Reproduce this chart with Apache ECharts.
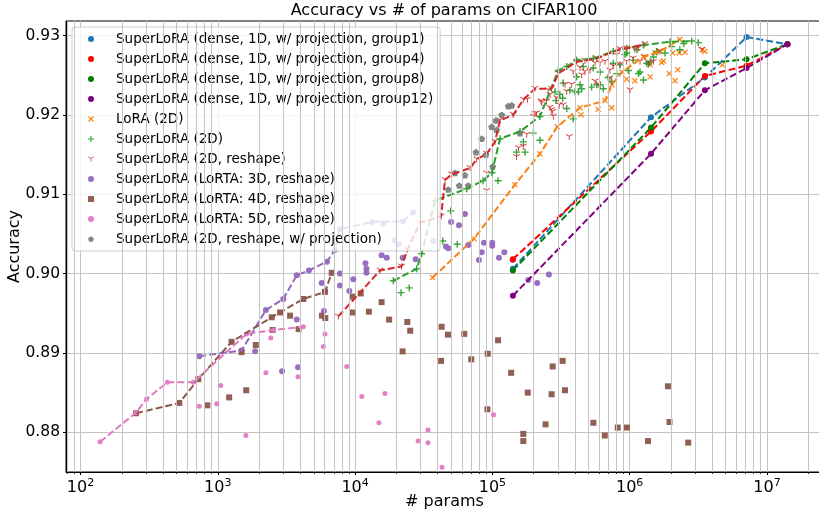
<!DOCTYPE html>
<html><head><meta charset="utf-8">
<script src="https://cdn.jsdelivr.net/npm/echarts@6/dist/echarts.min.js"></script>
<style>html,body{margin:0;padding:0;background:#fff}#c{width:819px;height:514px}</style>
</head><body><div id="c"></div><script>
// ---------------- data ----------------
const denseParams = [1.41e5, 1.43e6, 3.53e6, 7.1e6, 1.41e7];
const group1Acc  = [0.9006, 0.9197, 0.9247, 0.9298, 0.9289];
const group4Acc  = [0.9018, 0.9179, 0.9249, 0.9262, 0.9289];
const group8Acc  = [0.9004, 0.9184, 0.9265, 0.9270, 0.9289];
const group12Acc = [0.8972, 0.9151, 0.9231, 0.9259, 0.9289];

const loraFront = [[3.67e4,0.8995],[7.35e4,0.9044],[1.46e5,0.9112],[2.22e5,0.9151],[2.97e5,0.9185],[4.35e5,0.9209],[6.61e5,0.9218],[7.43e5,0.9238],[8.79e5,0.9254],[1.26e6,0.9273],[1.66e6,0.9280],[2.32e6,0.9295]];
const loraOther = [[4.42e5,0.9200],[5.90e5,0.9207],[7.39e5,0.9209],[9.51e5,0.9245],[1.09e6,0.9243],[1.41e6,0.9248],[1.71e6,0.9266],[1.94e6,0.9252],[2.14e6,0.9243],[2.24e6,0.9257],[1.53e6,0.9278],[2.06e6,0.9278],[2.30e6,0.9278],[2.53e6,0.9279],[3.38e6,0.9282],[3.53e6,0.9280],[4.72e6,0.9263],[1.76e6,0.9268],[1.41e6,0.9263]];

const sl2dFront = [[1.90e4,0.8991],[2.81e4,0.9006],[3.05e4,0.9025],[3.82e4,0.9092],[6.50e4,0.9107],[8.55e4,0.9117],[9.93e4,0.9127],[1.136e5,0.9170],[1.59e5,0.9179],[2.22e5,0.9198],[3.02e5,0.9256],[3.48e5,0.9261],[4.11e5,0.9269],[5.43e5,0.9271],[7.60e5,0.9280],[9.51e5,0.9284],[1.26e6,0.9288],[1.97e6,0.9292],[2.83e6,0.9293]];
const sl2dOther = [[2.16e4,0.8976],[2.48e4,0.8982],[4.35e4,0.9041],[5.55e4,0.9037],[4.97e4,0.9079],[1.10e5,0.9117],[1.50e5,0.9153],[1.73e5,0.9153],[1.68e5,0.9166],[1.99e5,0.9177],[2.22e5,0.9168],[3.88e5,0.9195],[3.10e5,0.9226],[3.67e5,0.9231],[4.35e5,0.9238],[5.28e5,0.9235],[6.08e5,0.9238],[6.98e5,0.9247],[8.04e5,0.9252],[8.49e5,0.9263],[9.77e5,0.9256],[1.06e6,0.9269],[1.26e6,0.9244],[1.33e6,0.9265],[1.49e6,0.9273],[1.57e6,0.9280],[1.81e6,0.9278],[2.02e6,0.9286],[2.32e6,0.9282],[2.48e6,0.9290],[3.16e6,0.9291],[1.13e6,0.9282],[9.51e5,0.9278],[6.08e5,0.9254],[5.43e5,0.9259],[4.11e5,0.9248],[4.59e5,0.9261],[3.28e5,0.9240],[2.86e5,0.9229],[4.23e5,0.9229],[7.60e5,0.9265],[1.16e6,0.9252],[1.41e6,0.9267],[2.90e5,0.9218],[3.48e5,0.9208],[4.00e5,0.9229],[4.47e5,0.9233],[5.75e5,0.9238],[6.43e5,0.9233],[7.39e5,0.9242],[9.25e5,0.9276],[1.19e6,0.9254],[1.37e6,0.9264],[3.25e5,0.9221]];

const reshapeFront = [[7.55e3,0.8946],[1.52e4,0.9004],[2.18e4,0.9009],[2.40e4,0.9030],[2.97e4,0.9064],[4.23e4,0.9072],[4.52e4,0.9118],[5.06e4,0.9125],[6.87e4,0.9133],[7.69e4,0.9144],[9.08e4,0.9151],[1.045e5,0.9166],[1.136e5,0.9193],[1.42e5,0.9200],[1.68e5,0.9219],[2.04e5,0.9233],[2.70e5,0.9233],[3.02e5,0.9252],[4.11e5,0.9267],[4.72e5,0.9268],[5.75e5,0.9271],[8.49e5,0.9283],[9.51e5,0.9284],[1.29e6,0.9289]];
const reshapeOther = [[9.08e4,0.9104],[9.08e4,0.9126],[1.50e5,0.9147],[1.55e5,0.9158],[1.68e5,0.9160],[1.78e5,0.9175],[2.10e5,0.9202],[2.26e5,0.9217],[1.99e5,0.9198],[2.75e5,0.9204],[2.63e5,0.9209],[3.63e5,0.9172],[1.80e5,0.9219],[2.04e5,0.9201],[2.29e5,0.9215],[2.48e5,0.9217],[2.70e5,0.9206],[2.94e5,0.9221],[3.07e5,0.9212],[3.38e5,0.9238],[3.48e5,0.9229],[3.78e5,0.9238],[4.35e5,0.9259],[4.72e5,0.9254],[5.14e5,0.9256],[5.59e5,0.9242],[5.90e5,0.9238],[5.59e5,0.9265],[6.08e5,0.9265],[6.61e5,0.9267],[7.18e5,0.9256],[7.60e5,0.9261],[8.49e5,0.9263],[7.18e5,0.9246],[9.51e5,0.9267],[1.005e6,0.9231],[1.06e6,0.9271],[1.19e6,0.9267],[1.29e6,0.9273],[1.37e6,0.9265],[1.49e6,0.9267],[1.66e6,0.9280],[1.09e6,0.9282],[1.16e6,0.9284],[8.04e5,0.9275],[4.47e5,0.9250],[3.28e5,0.9212],[2.78e5,0.9198],[2.55e5,0.9231],[2.63e5,0.9225],[3.88e5,0.9254],[3.36e6,0.9282]];

const lorta3dFront = [[733,0.8896],[1.49e3,0.8903],[2.24e3,0.8954],[3.0e3,0.8968],[3.76e3,0.8998],[4.61e3,0.9004],[6.24e3,0.9015],[7.14e3,0.9030],[7.76e3,0.9056],[1.33e4,0.9065],[2.23e4,0.9066],[2.65e4,0.9077]];
const lorta3dOther = [[1.87e3,0.8902],[2.94e3,0.8877],[3.84e3,0.8882],[3.76e3,0.8942],[5.93e3,0.8953],[5.71e3,0.8988],[7.76e3,0.8985],[7.76e3,0.9000],[9.08e3,0.8978],[9.70e3,0.8993],[1.19e4,0.9013],[1.21e4,0.9006],[1.21e4,0.9001],[1.56e4,0.9023],[1.70e4,0.9020],[2.22e4,0.9020],[2.76e4,0.9018],[1.93e4,0.9042],[2.09e4,0.9037],[4.59e4,0.9034],[4.77e4,0.9032],[5.0e4,0.9065],[5.71e4,0.9061],[6.31e4,0.9075],[6.67e4,0.9036],[8.69e4,0.9039],[9.98e4,0.9039],[9.98e4,0.9035],[8.36e4,0.9027],[7.98e4,0.9017],[1.117e5,0.9020],[1.222e5,0.9027],[1.406e5,0.9017],[1.825e5,0.8992],[2.12e5,0.8988],[2.58e5,0.8999],[1.60e4,0.9063],[3.71e4,0.9041]];

const lorta4dFront = [[254,0.8824],[524,0.8837],[721,0.8867],[1.26e3,0.8914],[2.47e3,0.8945],[2.84e3,0.8951],[4.2e3,0.8968],[6.04e3,0.8977],[6.76e3,0.9001]];
const lorta4dOther = [[1.49e3,0.8901],[1.89e3,0.8910],[2.51e3,0.8929],[3.36e3,0.8947],[3.88e3,0.8930],[1.21e3,0.8844],[1.61e3,0.8853],[839,0.8834],[5.74e3,0.8947],[6.07e3,0.8944],[9.54e3,0.8971],[9.54e3,0.8951],[1.26e4,0.8952],[1.10e4,0.8975],[1.56e4,0.8964],[1.77e4,0.8942],[2.40e4,0.8939],[2.52e4,0.8928],[2.22e4,0.8902],[4.27e4,0.8933],[4.75e4,0.8923],[6.24e4,0.8924],[4.23e4,0.8890],[7.02e4,0.8892],[9.25e4,0.8899],[9.2e4,0.8829],[1.10e5,0.8916],[1.37e5,0.8875],[1.81e5,0.8850],[1.68e5,0.8798],[1.68e5,0.8789],[2.44e5,0.8810],[2.70e5,0.8848],[2.75e5,0.8883],[3.25e5,0.8890],[3.38e5,0.8853],[5.44e5,0.8812],[6.59e5,0.8796],[8.19e5,0.8806],[9.55e5,0.8806],[1.36e6,0.8789],[1.95e6,0.8813],[2.67e6,0.8787],[1.90e6,0.8858]];

const lorta5dFront = [[139,0.8788],[254,0.8825],[303,0.8842],[429,0.8863],[663,0.8863],[1.62e3,0.8924],[2.54e3,0.8929],[4.2e3,0.8933]];
const lorta5dOther = [[733,0.8833],[982,0.8836],[1.05e3,0.8859],[1.60e3,0.8796],[2.24e3,0.8875],[3.84e3,0.8870],[5.87e3,0.8908],[6.04e3,0.8924],[2.43e3,0.8919],[8.69e3,0.8883],[1.12e4,0.8845],[1.65e4,0.8849],[1.49e4,0.8812],[2.88e4,0.8789],[3.40e4,0.8803],[3.40e4,0.8787],[4.30e4,0.8756],[1.02e5,0.8822]];

const projPoints = [[4.77e4,0.9106],[5.35e4,0.9127],[5.74e4,0.9111],[6.31e4,0.9124],[6.67e4,0.9111],[7.60e4,0.9153],[8.36e4,0.9170],[8.98e4,0.9150],[9.88e4,0.9185],[1.005e5,0.9135],[1.062e5,0.9193],[1.074e5,0.9181],[1.17e5,0.9200],[1.306e5,0.9211],[1.383e5,0.9212],[1.588e5,0.9177]];

const xTickValues = [1e2, 1e3, 1e4, 1e5, 1e6, 1e7];
const yTickValues = [0.88, 0.89, 0.90, 0.91, 0.92, 0.93];
const xMinorValues = [];
for (let e = 1; e <= 7; e++) for (let m = 2; m <= 9; m++) { const v = m * Math.pow(10, e); if (v > 78.4 && v < 2.56e7) xMinorValues.push(v); }

const labels = [
  'SuperLoRA (dense, 1D, w/ projection, group1)',
  'SuperLoRA (dense, 1D, w/ projection, group4)',
  'SuperLoRA (dense, 1D, w/ projection, group8)',
  'SuperLoRA (dense, 1D, w/ projection, group12)',
  'LoRA (2D)',
  'SuperLoRA (2D)',
  'SuperLoRA (2D, reshape)',
  'SuperLoRA (LoRTA: 3D, reshape)',
  'SuperLoRA (LoRTA: 4D, reshape)',
  'SuperLoRA (LoRTA: 5D, reshape)',
  'SuperLoRA (2D, reshape, w/ projection)'
];
const colors = ['#1f77b4','#ff0000','#008000','#800080','#ff7f0e','#2ca02c','#d62728','#9467bd','#8c564b','#e377c2','#7f7f7f'];

// ---------------- styling ----------------
const FONT = 'DejaVu Sans';
const GRID = '#c4c4c4';
const X_MARK = 'path://M1.5,0L5,3.5L8.5,0L10,1.5L6.5,5L10,8.5L8.5,10L5,6.5L1.5,10L0,8.5L3.5,5L0,1.5Z';
const PLUS_MARK = 'path://M4,0H6V4H10V6H6V10H4V6H0V4H4Z';
const TRI_MARK = 'path://M4.4,10L4.4,5.35L0.37,3.02L0.97,1.98L5,4.31L9.03,1.98L9.63,3.02L5.6,5.35L5.6,10Z';
const PENT_MARK = 'path://M5,0L9.76,3.45L7.94,9.05L2.06,9.05L0.24,3.45Z';
const symbols = ['circle','circle','circle','circle',X_MARK,PLUS_MARK,TRI_MARK,'circle','rect','circle',PENT_MARK];
const sizes = [6,6,6,6,6,7,7,6,6,5,7];

const zip = (xs, ys) => xs.map((x, i) => [x, ys[i]]);
const dash = [7, 3];

function denseSeries(i, acc) {
  return {type:'line', name: labels[i], data: zip(denseParams, acc), symbol:'circle', symbolSize:6, showSymbol:true,
    itemStyle:{color: colors[i]}, lineStyle:{color: colors[i], width:2, type: dash}, silent:true};
}
function scatterSeries(i, pts) {
  return {type:'scatter', name: labels[i], data: pts, symbol: symbols[i], symbolSize: sizes[i], symbolKeepAspect:true,
    itemStyle:{color: colors[i], opacity: 0.95}, silent:true};
}
function frontSeries(i, pts) {
  return {type:'line', name: '_front' + i, data: pts, symbol:'none', lineStyle:{color: colors[i], width:2, type: dash}, silent:true};
}

const series = [
  {type:'scatter', name:'_grid', data: [], silent:true, z:1,
   markLine:{silent:true, symbol:['none','none'], label:{show:false}, animation:false,
     lineStyle:{color: GRID, width:1, type:'solid'}, emphasis:{disabled:true},
     data: xMinorValues.map(v => ({xAxis: v}))}},
  denseSeries(0, group1Acc),
  denseSeries(1, group4Acc),
  denseSeries(2, group8Acc),
  denseSeries(3, group12Acc),
  scatterSeries(4, loraFront.concat(loraOther)), frontSeries(4, loraFront),
  scatterSeries(5, sl2dFront.concat(sl2dOther)), frontSeries(5, sl2dFront),
  scatterSeries(6, reshapeFront.concat(reshapeOther)), frontSeries(6, reshapeFront),
  scatterSeries(7, lorta3dFront.concat(lorta3dOther)), frontSeries(7, lorta3dFront),
  scatterSeries(8, lorta4dFront.concat(lorta4dOther)), frontSeries(8, lorta4dFront),
  scatterSeries(9, lorta5dFront.concat(lorta5dOther)), frontSeries(9, lorta5dFront),
  scatterSeries(10, projPoints)
];

const chart = echarts.init(document.getElementById('c'), null, {renderer:'canvas'});
chart.setOption({
  animation: false,
  backgroundColor: '#fff',
  textStyle: {fontFamily: FONT},
  grid: {left: 66, right: -4, top: 21, bottom: 42, show: true, borderColor: '#000', borderWidth: 1,
    backgroundColor: 'transparent', containLabel: false, outerBoundsMode: 'none'},
  graphic: [{type:'text', x: 444, y: 11, z: 10,
    style:{text:'Accuracy vs # of params on CIFAR100', fontFamily: FONT, fontSize: 16, fill:'#000', align:'center', verticalAlign:'middle'}}],
  xAxis: [{
    type:'log', logBase:10, min: 78.4, max: 2.56e7, gridIndex:0,
    axisLine:{show:true, onZero:false, lineStyle:{color:'#000', width:1}},
    axisTick:{show:true, length:3, inside:false, customValues: xTickValues, lineStyle:{color:'#000', width:1}},
    axisLabel:{show:true, margin:6, customValues: xTickValues, showMinLabel:true, showMaxLabel:true,
      formatter: v => '{b|10}{s|' + Math.round(Math.log10(v)) + '}',
      rich:{b:{fontFamily:FONT, fontSize:16, color:'#000', lineHeight:20, verticalAlign:'middle'},
            s:{fontFamily:FONT, fontSize:11, color:'#000', lineHeight:12, verticalAlign:'top'}}},
    splitLine:{show:true, lineStyle:{color: GRID, width:1}},
    name:'# params', nameLocation:'middle', nameGap: 22, nameMoveOverlap: false,
    nameTextStyle:{fontFamily:FONT, fontSize:16, color:'#000'}
  }, {
    type:'log', logBase:10, min: 78.4, max: 2.56e7, gridIndex:0, position:'bottom',
    axisLine:{show:false}, axisLabel:{show:false}, splitLine:{show:false},
    axisTick:{show:true, length:2, customValues: xMinorValues, lineStyle:{color:'#000', width:0.8}}
  }],
  yAxis: {
    type:'value', min: 0.875, max: 0.931828,
    axisLine:{show:true, lineStyle:{color:'#000', width:1}},
    axisTick:{show:true, length:3, customValues: yTickValues, lineStyle:{color:'#000', width:1}},
    axisLabel:{margin:6, customValues: yTickValues, formatter: v => v.toFixed(2), fontFamily:FONT, fontSize:15.5, color:'#000'},
    splitLine:{show:true, lineStyle:{color: GRID, width:1}},
    name:'Accuracy', nameLocation:'middle', nameGap: 43, nameMoveOverlap: false,
    nameTextStyle:{fontFamily:FONT, fontSize:16, color:'#000'}
  },
  legend: {
    show:true, orient:'vertical', left:72, top:27, itemGap:0, itemWidth:6, itemHeight:6,
    padding:[2,7,2,16], selectedMode:false,
    backgroundColor:'rgba(255,255,255,0.8)', borderColor:'#cccccc', borderWidth:1, borderRadius:3,
    textStyle:{fontFamily:FONT, fontSize:13.5, color:'#000', lineHeight:20, padding:[0,0,0,17]},
    data: labels.map((n, i) => ({name:n, icon: symbols[i], itemStyle:{color: colors[i]}}))
  },
  series: series
});
</script></body></html>
